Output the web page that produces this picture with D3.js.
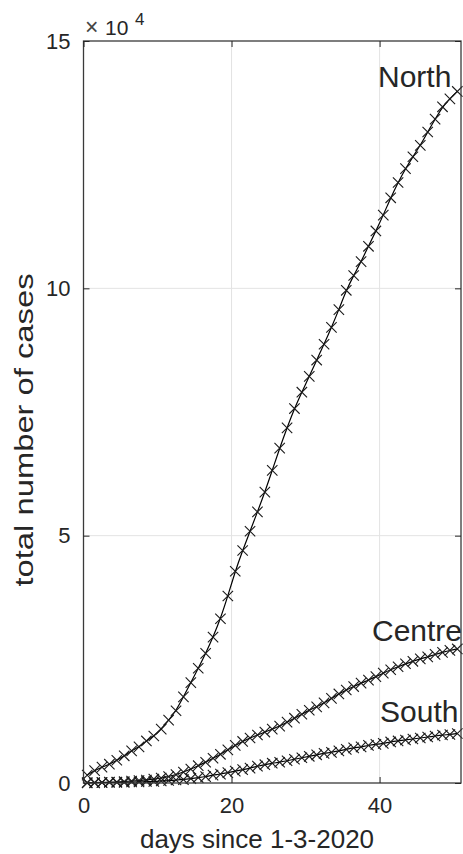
<!DOCTYPE html>
<html>
<head>
<meta charset="utf-8">
<script src="https://cdn.jsdelivr.net/npm/d3@7"></script>
<style>
  html, body { margin: 0; padding: 0; background: #fff; }
  svg { display: block; }
  text { font-family: "Liberation Sans", Arial, Helvetica, sans-serif; fill: #262626; }
</style>
</head>
<body>
<svg id="chart" width="463" height="854"></svg>
<script>
// ---------- data ----------
const days = [1,2,3,4,5,6,7,8,9,10,11,12,13,14,15,16,17,18,19,20,21,22,23,24,25,26,27,28,29,30,
              31,32,33,34,35,36,37,38,39,40,41,42,43,44,45,46,47,48,49,50,51];
const north = [1600,2500,3200,3800,4600,5500,6500,7300,8500,9500,10900,12700,14600,17400,20300,23200,
               26200,29500,33200,37800,42800,47000,50900,54800,58800,63200,67700,71800,75700,79000,
               82200,85500,88700,92100,95700,99600,102600,105400,108500,111600,114800,118300,121400,
               124200,126600,128900,131600,134200,136700,138300,139800];
const centre = [100,100,100,200,200,300,400,500,600,800,1000,1300,1700,2200,2800,3500,4200,5000,5800,
                6700,7600,8400,9100,9700,10300,10900,11500,12300,13100,13900,14700,15400,16200,17100,
                18000,18800,19500,20200,20800,21500,22200,22900,23500,24100,24600,25100,25500,26000,
                26400,26800,27100];
const south = [0,0,100,100,100,100,200,200,300,300,400,500,600,700,900,1100,1300,1600,1800,2100,2400,
               2700,3000,3400,3700,4000,4200,4500,4800,5100,5400,5700,6000,6200,6500,6800,7100,7300,
               7600,7800,8000,8300,8500,8700,8900,9100,9300,9500,9700,9800,10000];
const seriesNames = ["North", "Centre", "South"];
const xTicks = [0, 20, 40];
const yTicks = [0, 50000, 100000, 150000];
const yTickLabels = ["0", "5", "10", "15"];

(function () {
// ---------- layout ----------
const svg = d3.select("#chart");
const pL = 83.5, pR = 461, pT = 41, pB = 783;
const x = d3.scaleLinear().domain([0, 51]).range([pL, pR]);
const y = d3.scaleLinear().domain([0, 150000]).range([pB, pT]);
const ink = "#262626";

// grid
const grid = svg.append("g");
grid.selectAll("line.gx").data(xTicks.filter(t => t > 0)).enter().append("line")
  .attr("x1", d => x(d)).attr("x2", d => x(d)).attr("y1", pT).attr("y2", pB)
  .attr("stroke", "#e3e3e3").attr("stroke-width", 1);
grid.selectAll("line.gy").data(yTicks.filter(t => t > 0 && t < 150000)).enter().append("line")
  .attr("x1", pL).attr("x2", pR).attr("y1", d => y(d)).attr("y2", d => y(d))
  .attr("stroke", "#e3e3e3").attr("stroke-width", 1);

// series
const sets = [north, centre, south];
const line = d3.line().x((d, i) => x(days[i] - 0.5)).y(d => y(d)).curve(d3.curveBasis);
const plot = svg.append("g");
sets.forEach(vals => {
  plot.append("path").attr("d", line(vals)).attr("fill", "none")
    .attr("stroke", "#000").attr("stroke-width", 1.2);
  const s = 5.2;
  plot.append("g").selectAll("path").data(vals).enter().append("path")
    .attr("transform", (d, i) => `translate(${x(days[i] - 0.5)},${y(d)})`)
    .attr("d", `M${-s},${-s}L${s},${s}M${-s},${s}L${s},${-s}`)
    .attr("stroke", "#1a1a1a").attr("stroke-width", 1.1).attr("fill", "none");
});

// box
svg.append("rect").attr("x", pL).attr("y", pT).attr("width", pR - pL).attr("height", pB - pT)
  .attr("fill", "none").attr("stroke", "#3a3a3a").attr("stroke-width", 1.3);

// axes via d3 (inward ticks)
const xAxis = d3.axisBottom(x).tickValues(xTicks).tickSize(-6).tickPadding(14).tickFormat(d3.format("d"));
const gx = svg.append("g").attr("transform", `translate(0,${pB})`).call(xAxis);
gx.select(".domain").remove();
gx.selectAll(".tick line").attr("stroke", ink);
gx.selectAll(".tick text").attr("font-size", 22).attr("fill", ink)
  .style("font-family", '"Liberation Sans", Arial, sans-serif');

const xTop = d3.axisTop(x).tickValues(xTicks).tickSize(-6).tickFormat("");
const gxt = svg.append("g").attr("transform", `translate(0,${pT})`).call(xTop);
gxt.select(".domain").remove();
gxt.selectAll(".tick line").attr("stroke", ink);

const yAxis = d3.axisLeft(y).tickValues(yTicks).tickSize(-6).tickPadding(13)
  .tickFormat((d, i) => yTickLabels[i]);
const gy = svg.append("g").attr("transform", `translate(${pL},0)`).call(yAxis);
gy.select(".domain").remove();
gy.selectAll(".tick line").attr("stroke", ink);
gy.selectAll(".tick text").attr("font-size", 22).attr("fill", ink)
  .style("font-family", '"Liberation Sans", Arial, sans-serif');

const yRight = d3.axisRight(y).tickValues(yTicks).tickSize(-6).tickFormat("");
const gyr = svg.append("g").attr("transform", `translate(${pR},0)`).call(yRight);
gyr.select(".domain").remove();
gyr.selectAll(".tick line").attr("stroke", ink);

// exponent
svg.append("text").attr("x", 85).attr("y", 35).attr("font-size", 23).attr("font-weight", 300)
  .style("fill", "#444").text("×");
svg.append("text").attr("x", 105).attr("y", 35).attr("font-size", 21).text("10");
svg.append("text").attr("x", 135).attr("y", 25).attr("font-size", 17).text("4");

// axis labels
svg.append("text").attr("x", 257).attr("y", 848).attr("text-anchor", "middle")
  .attr("font-size", 26).text("days since 1-3-2020");
svg.append("text").attr("transform", `translate(33,430) rotate(-90) scale(1.26,1)`)
  .attr("text-anchor", "middle").attr("font-size", 26)
  .text("total number of cases");

// series labels
const labelPos = [[378, 87], [372, 641], [380, 722]];
seriesNames.forEach((n, i) => {
  svg.append("text").attr("x", labelPos[i][0]).attr("y", labelPos[i][1])
    .attr("font-size", 30).text(n);
});
})();
</script>
</body>
</html>
